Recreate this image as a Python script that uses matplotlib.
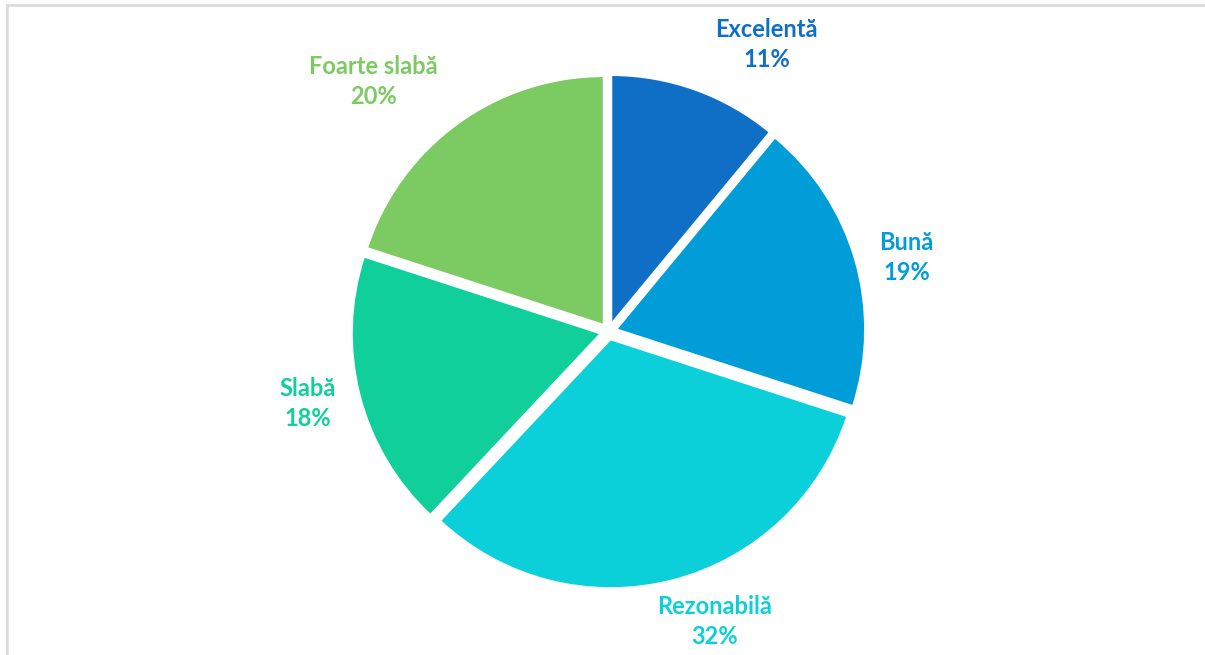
"""
Plăcintă cu distribuția evaluărilor (Excelentă ... Foarte slabă)
"""

import matplotlib
matplotlib.use('Agg')
import matplotlib.pyplot as plt
from matplotlib.lines import Line2D

# Date
categorii = ['Excelentă', 'Bună', 'Rezonabilă', 'Slabă', 'Foarte slabă']
procente = [11, 19, 32, 18, 20]
culori = ['#0F6FC6', '#009DD9', '#0BD0D9', '#10CF9B', '#7CCA62']

# Pozitia etichetelor (relativ la centru, in raze)
poz_etichete = [(0.635, 1.153), (1.197, 0.297), (0.426, -1.165),
                (-1.209, -0.289), (-0.944, 1.004)]

W, H = 1205, 655
fig = plt.figure(figsize=(W / 100, H / 100), dpi=100)
ax = fig.add_axes([0, 0, 1, 1])

wedges, _ = ax.pie(
    procente,
    colors=culori,
    startangle=90,
    counterclock=False,
    explode=[0.032] * len(procente),
    wedgeprops=dict(edgecolor='white', linewidth=1.5),
)

# Scara: raza 1 = 249 px, centrul la (608.5, 331.5) px de sus-stanga
r_px = 249.0
cx, cy = 608.5, 331.5
ax.set_aspect('auto')
ax.set_xlim(-cx / r_px, (W - cx) / r_px)
ax.set_ylim(-(H - cy) / r_px, cy / r_px)
ax.axis('off')

for nume, val, col, (x, y) in zip(categorii, procente, culori, poz_etichete):
    ax.text(x, y, f'{nume}\n{val}%', color=col, fontsize=17,
            fontweight='bold', family='Lato', ha='center', va='center',
            linespacing=1.33)

# Chenarul gri al graficului
gri = '#D9D9D9'
fig.add_artist(Line2D([6.5 / W, 1], [1 - 4.5 / H, 1 - 4.5 / H],
                      transform=fig.transFigure, color=gri, lw=1.8))
fig.add_artist(Line2D([6.5 / W, 6.5 / W], [0, 1 - 4.5 / H],
                      transform=fig.transFigure, color=gri, lw=1.8))

fig.savefig('out.png', dpi=100, facecolor='white')
plt.close(fig)
